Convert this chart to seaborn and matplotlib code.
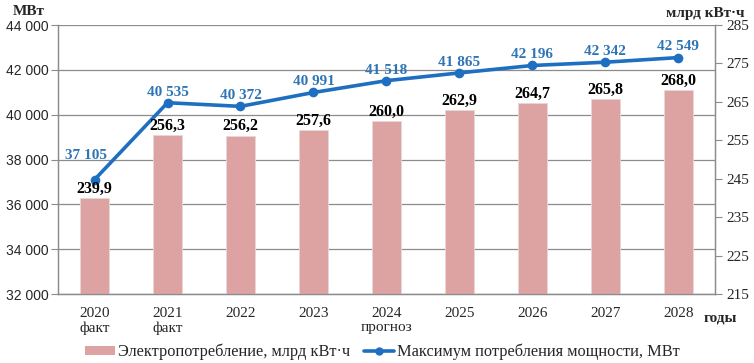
import numpy as np
import pandas as pd
import seaborn as sns
import matplotlib.pyplot as plt
from matplotlib.lines import Line2D
from matplotlib.patches import Patch

sns.set_style('white')
plt.rcParams['font.family'] = ['Liberation Serif', 'DejaVu Serif']

years = ['2020\nфакт', '2021\nфакт', '2022', '2023', '2024\nпрогноз',
         '2025', '2026', '2027', '2028']
energy = [239.9, 256.3, 256.2, 257.6, 260.0, 262.9, 264.7, 265.8, 268.0]
peak = [37105, 40535, 40372, 40991, 41518, 41865, 42196, 42342, 42549]

bar_color = '#DDA3A3'
line_color = '#1F6FC0'
label_blue = '#2E75B6'
grid_gray = '#8C8C8C'

df = pd.DataFrame({'year': years, 'energy': energy, 'peak': peak})

fig = plt.figure(figsize=(7.54, 3.63), dpi=100)
ax = fig.add_axes([0.077, 0.19, 0.871, 0.741])
ax2 = ax.twinx()

# line (left axis) drawn on the lower axes, bars on top of the grid
sns.pointplot(data=df, x='year', y='peak', ax=ax, color=line_color,
              markers='o', markersize=5, linewidth=2.6)
sns.barplot(data=df, x='year', y='energy', ax=ax2, color=bar_color,
            width=0.4, saturation=1, edgecolor='#E8D8D8', linewidth=0.6)

ax.set_ylim(32000, 44000)
ax.set_yticks(np.arange(32000, 44001, 2000))
ax.set_yticklabels([f'{v:,}'.replace(',', ' ') for v in range(32000, 44001, 2000)],
                   family='Liberation Sans', fontsize=10)
ax2.set_ylim(215, 285)
ax2.set_yticks(np.arange(215, 286, 10))
ax2.set_yticklabels([str(v) for v in range(215, 286, 10)], fontsize=11)

ax.set_xlim(-0.5, 8.5)
ax.set_xticks(range(len(years)))
ax.set_xticklabels(years, fontsize=11, linespacing=1.15)
ax.set_xticks(np.arange(-0.5, len(years)), minor=True)
ax.tick_params(axis='x', which='major', length=0, pad=9)
ax.tick_params(axis='x', which='minor', length=5, color=grid_gray, direction='out')
ax.tick_params(axis='y', length=5, color=grid_gray, direction='out', pad=2)
ax2.tick_params(axis='y', length=5, color=grid_gray, direction='out', pad=3)

ax.grid(axis='y', color=grid_gray, linewidth=0.9)
ax.set_axisbelow(True)
ax.set_xlabel('')
ax.set_ylabel('')
ax2.set_xlabel('')
ax2.set_ylabel('')
for a in (ax, ax2):
    a.spines['top'].set_visible(False)
    for s in ('left', 'right', 'bottom'):
        a.spines[s].set_color(grid_gray)
        a.spines[s].set_linewidth(0.9)

for i, v in enumerate(peak):
    off = (-6, 13) if i == 0 else (0, 3)
    ax.annotate(f'{v:,}'.replace(',', ' '), (i, v), xytext=off,
                textcoords='offset points', ha='center', va='bottom',
                color=label_blue, fontsize=11, fontweight='bold')
for i, v in enumerate(energy):
    ax2.annotate(f'{v:.1f}'.replace('.', ','), (i, v), xytext=(0, 1),
                 textcoords='offset points', ha='center', va='bottom',
                 color='black', fontsize=11.5, fontweight='bold')

fig.text(0.017, 0.968, 'МВт', fontsize=11, fontweight='bold', va='center')
fig.text(0.988, 0.962, 'млрд кВт·ч', fontsize=11, fontweight='bold',
         va='center', ha='right')
fig.text(0.955, 0.124, 'годы', fontsize=11, fontweight='bold', va='center', ha='center')

handles = [Patch(facecolor=bar_color, edgecolor='none'),
           Line2D([], [], color=line_color, linewidth=2.6, marker='o', markersize=5)]
fig.legend(handles, ['Электропотребление, млрд кВт·ч',
                     'Максимум потребления мощности, МВт'],
           loc='center', bbox_to_anchor=(0.507, 0.03), ncol=2, frameon=False,
           fontsize=11.8, handlelength=1.85, handleheight=0.4,
           handletextpad=0.2, columnspacing=0.8)

fig.savefig('out.png', dpi=100)
